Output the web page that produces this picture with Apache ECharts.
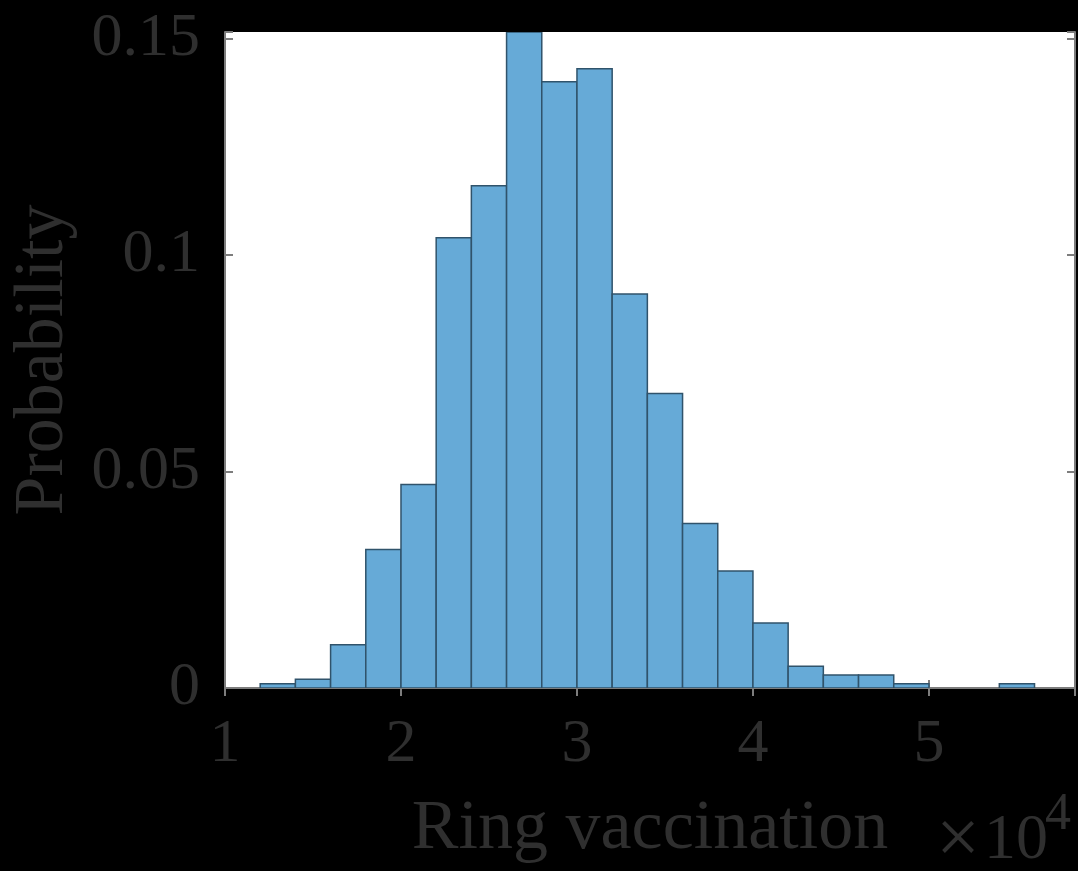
<!DOCTYPE html>
<html>
<head>
<meta charset="utf-8">
<script src="https://cdn.jsdelivr.net/npm/echarts@6/dist/echarts.min.js"></script>
<style>
  html, body { margin: 0; padding: 0; background: #000; }
  #chart { width: 1078px; height: 871px; }
</style>
</head>
<body>
<div id="chart"></div>
<script>
// Histogram bin edges (in units of 10^4)
const binEdges = [1.2, 1.4, 1.6, 1.8, 2.0, 2.2, 2.4, 2.6, 2.8, 3.0, 3.2, 3.4, 3.6, 3.8, 4.0, 4.2, 4.4, 4.6, 4.8, 5.0, 5.2, 5.4, 5.6];
// Probability of each bin
const probabilities = [0.001, 0.002, 0.010, 0.032, 0.047, 0.104, 0.116, 0.153, 0.140, 0.143, 0.091, 0.068, 0.038, 0.027, 0.015, 0.005, 0.003, 0.003, 0.001, 0, 0, 0.001];
// Tick labels
const xTicks = [1, 2, 3, 4, 5];
const xTickLabels = ['1', '2', '3', '4', '5'];
const yTicks = [0, 0.05, 0.1, 0.15];
const yTickLabels = ['0', '0.05', '0.1', '0.15'];
const xTitle = 'Ring vaccination';
const yTitle = 'Probability';
const xExponentTimes = '×';
const xExponentBase = '10';
const xExponentPower = '4';

const histData = probabilities.map((p, i) => [binEdges[i], binEdges[i + 1], p]);

function tickLabel(ticks, labels) {
  return function (v) {
    for (let i = 0; i < ticks.length; i++) {
      if (Math.abs(v - ticks[i]) < 1e-6) return labels[i];
    }
    return '';
  };
}

const FONT = '"Liberation Serif", "DejaVu Serif", serif';
const TEXT_COLOR = '#2f2f2f';
const AXIS_COLOR = '#7d7d7d';

const chart = echarts.init(document.getElementById('chart'), null, { renderer: 'canvas' });

const commonLine = { show: true, lineStyle: { color: AXIS_COLOR, width: 2 } };
const commonTick = { show: true, inside: true, length: 8, lineStyle: { color: AXIS_COLOR, width: 2 } };

const option = {
  backgroundColor: '#000000',
  animation: false,
  grid: {
    left: 225, top: 32, width: 850, height: 656,
    show: true, backgroundColor: '#ffffff', borderWidth: 0
  },
  xAxis: [
    {
      type: 'value', min: 1, max: 5.83, interval: 1, position: 'bottom',
      axisLine: commonLine, axisTick: commonTick, splitLine: { show: false },
      axisLabel: {
        show: true, margin: 26, color: TEXT_COLOR, fontFamily: FONT, fontSize: 62,
        formatter: tickLabel(xTicks, xTickLabels)
      },
      name: xTitle, nameLocation: 'middle', nameGap: 107,
      nameTextStyle: { color: TEXT_COLOR, fontFamily: FONT, fontSize: 70 }
    },
    {
      type: 'value', min: 1, max: 5.83, interval: 1, position: 'top',
      axisLine: commonLine, axisTick: commonTick, splitLine: { show: false },
      axisLabel: { show: false }
    }
  ],
  yAxis: [
    {
      type: 'value', min: 0, max: 0.1515, interval: 0.05, position: 'left',
      axisLine: commonLine, axisTick: commonTick, splitLine: { show: false },
      axisLabel: {
        show: true, margin: 25, color: TEXT_COLOR, fontFamily: FONT, fontSize: 62,
        formatter: tickLabel(yTicks, yTickLabels)
      },
      name: yTitle, nameLocation: 'middle', nameGap: 146,
      nameTextStyle: { color: TEXT_COLOR, fontFamily: FONT, fontSize: 70 }
    },
    {
      type: 'value', min: 0, max: 0.1515, interval: 0.05, position: 'right',
      axisLine: commonLine, axisTick: commonTick, splitLine: { show: false },
      axisLabel: { show: false }
    }
  ],
  series: [
    {
      type: 'custom',
      xAxisIndex: 0, yAxisIndex: 0,
      clip: true,
      data: histData,
      renderItem: function (params, api) {
        const x0 = api.value(0), x1 = api.value(1), p = api.value(2);
        const bl = api.coord([x0, 0]);
        const tr = api.coord([x1, p]);
        const shape = echarts.graphic.clipRectByRect(
          { x: bl[0], y: tr[1], width: tr[0] - bl[0], height: bl[1] - tr[1] },
          { x: params.coordSys.x, y: params.coordSys.y, width: params.coordSys.width, height: params.coordSys.height }
        );
        if (!shape || p <= 0) return null;
        return {
          type: 'rect',
          shape: shape,
          style: { fill: '#66aad7', stroke: '#30536b', lineWidth: 1.5 }
        };
      }
    }
  ],
  graphic: [
    {
      type: 'text', left: 936, top: 804,
      style: { text: xExponentTimes, fontFamily: FONT, fontSize: 78, fill: TEXT_COLOR }
    },
    {
      type: 'text', left: 984, top: 809,
      style: { text: xExponentBase, fontFamily: FONT, fontSize: 64, fill: TEXT_COLOR }
    },
    {
      type: 'text', left: 1045, top: 789,
      style: { text: xExponentPower, fontFamily: FONT, fontSize: 52, fill: TEXT_COLOR }
    }
  ]
};

chart.setOption(option);
</script>
</body>
</html>
